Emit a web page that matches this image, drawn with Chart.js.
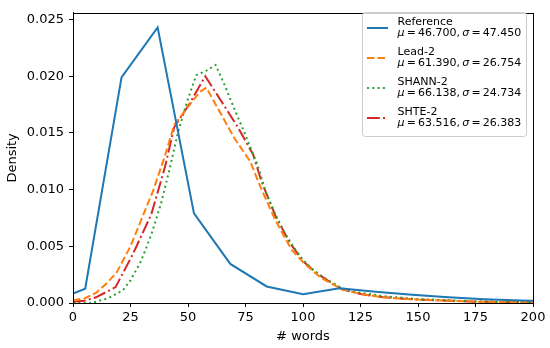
<!DOCTYPE html>
<html>
<head>
<meta charset="utf-8">
<script src="https://cdn.jsdelivr.net/npm/chart.js@4.4.1/dist/chart.umd.min.js"></script>
<style>
  html, body { margin: 0; padding: 0; background: #fff; }
  #wrap { width: 550px; height: 348px; }
</style>
</head>
<body>
<div id="wrap"><canvas id="c" width="550" height="348"></canvas></div>
<script>
// ---- Data ----
const seriesNames = ["Reference", "Lead-2", "SHANN-2", "SHTE-2"];
const muValues = ["46.700", "61.390", "66.138", "63.516"];
const sigmaValues = ["47.450", "26.754", "24.734", "26.383"];

const refX = [0, 5.3, 21.1, 36.8, 52.6, 68.4, 84.2, 100, 115.8, 131.6, 147.4, 163.2, 178.9, 194.7, 200];
const refY = [0.00083, 0.00126, 0.0199, 0.0243, 0.0079, 0.00345, 0.00146, 0.00077, 0.00130, 0.00100, 0.00072, 0.00050, 0.00033, 0.00022, 0.00020];

const leadX = [0, 5, 10, 15, 19, 25, 30, 35, 40, 44, 50, 55, 58, 64, 70, 77, 82, 88, 95, 101, 108, 117, 125, 135, 150, 175, 200];
const leadY = [0.00025, 0.0004, 0.0009, 0.0018, 0.0027, 0.0050, 0.0075, 0.0100, 0.0130, 0.0157, 0.0173, 0.0186, 0.0190, 0.0168, 0.0146, 0.0125, 0.0100, 0.0073, 0.0047, 0.0034, 0.0022, 0.0012, 0.0008, 0.0005, 0.0003, 0.00012, 0.00005];

const shannX = [0, 8, 15, 21.6, 25, 29.6, 34, 38.3, 42, 45.7, 50, 53.6, 58, 62, 66, 70, 75, 80, 84, 88, 92, 96, 100, 104, 110, 117, 125, 135, 150, 175, 200];
const shannY = [0.0, 0.0, 0.0004, 0.0011, 0.0020, 0.0037, 0.0060, 0.0088, 0.0118, 0.0151, 0.0180, 0.0201, 0.0205, 0.0210, 0.0192, 0.0172, 0.0148, 0.0123, 0.0097, 0.0078, 0.0062, 0.0049, 0.0038, 0.0030, 0.0021, 0.0013, 0.0009, 0.0006, 0.00035, 0.00015, 0.00006];

const shteX = [0, 5, 10, 18.5, 26, 34, 40, 44, 50.7, 57.5, 64.5, 71.7, 78.3, 82, 88, 94, 100, 106, 117, 125, 135, 150, 175, 200];
const shteY = [0.0001, 0.0002, 0.0005, 0.0014, 0.0043, 0.0078, 0.0120, 0.0155, 0.0176, 0.0200, 0.0178, 0.0155, 0.0131, 0.0107, 0.0077, 0.0054, 0.0037, 0.0026, 0.0012, 0.0008, 0.0005, 0.0003, 0.00012, 0.00005];

const xTicks = [0, 25, 50, 75, 100, 125, 150, 175, 200];
const yTicks = [0.000, 0.005, 0.010, 0.015, 0.020, 0.025];

// ---- Build datasets ----
function pts(xs, ys) { return xs.map((x, i) => ({ x: x, y: ys[i] })); }

const colors = ["#1f77b4", "#ff7f0e", "#2ca02c", "#d62728"];
const dashes = [[], [7.4, 3.2], [2, 3.3], [12.8, 3.2, 2, 3.2]];
const seriesData = [pts(refX, refY), pts(leadX, leadY), pts(shannX, shannY), pts(shteX, shteY)];

const datasets = seriesNames.map((n, i) => ({
  label: n,
  data: seriesData[i],
  borderColor: colors[i],
  backgroundColor: colors[i],
  borderWidth: 2,
  borderDash: dashes[i],
  pointRadius: 0,
  tension: 0,
  fill: false,
  borderCapStyle: 'butt'
}));

const FONT = "'DejaVu Sans', sans-serif";

// Frame (all four spines) + custom matplotlib-like legend
const framePlugin = {
  id: 'frame',
  afterDraw(chart) {
    const { ctx, chartArea: a } = chart;
    ctx.save();
    ctx.strokeStyle = '#000';
    ctx.lineWidth = 1;
    ctx.strokeRect(Math.round(a.left) + 0.5, Math.round(a.top) + 0.5, Math.round(a.right - a.left), Math.round(a.bottom - a.top));
    ctx.restore();

    // legend
    const bx = 362.5, by = 12.5, bw = 164, bh = 124, r = 3;
    ctx.save();
    ctx.beginPath();
    ctx.moveTo(bx + r, by);
    ctx.lineTo(bx + bw - r, by);
    ctx.quadraticCurveTo(bx + bw, by, bx + bw, by + r);
    ctx.lineTo(bx + bw, by + bh - r);
    ctx.quadraticCurveTo(bx + bw, by + bh, bx + bw - r, by + bh);
    ctx.lineTo(bx + r, by + bh);
    ctx.quadraticCurveTo(bx, by + bh, bx, by + bh - r);
    ctx.lineTo(bx, by + r);
    ctx.quadraticCurveTo(bx, by, bx + r, by);
    ctx.closePath();
    ctx.fillStyle = 'rgba(255,255,255,0.8)';
    ctx.fill();
    ctx.strokeStyle = '#cccccc';
    ctx.lineWidth = 1;
    ctx.stroke();

    const ds = chart.data.datasets;
    for (let i = 0; i < ds.length; i++) {
      const y0 = 21.7 + 30 * i;
      const ly = y0 + 6.3;
      ctx.beginPath();
      ctx.setLineDash(ds[i].borderDash);
      ctx.lineCap = 'butt';
      ctx.strokeStyle = ds[i].borderColor;
      ctx.lineWidth = 2;
      ctx.moveTo(367, ly);
      ctx.lineTo(388, ly);
      ctx.stroke();
      ctx.setLineDash([]);

      ctx.fillStyle = '#000';
      ctx.textBaseline = 'middle';
      ctx.textAlign = 'left';
      ctx.font = "11px " + FONT;
      ctx.fillText(ds[i].label, 397.5, y0);

      // second line: mathtext-like  μ = xx, σ = yy
      const y1 = y0 + 11.7;
      let x = 397.5;
      const segs = [
        ["μ", true], ["\u2009=\u2009" + muValues[i] + ",\u2009", false], ["σ", true], ["\u2009=\u2009" + sigmaValues[i], false]
      ];
      for (const [t, it] of segs) {
        ctx.font = (it ? "italic " : "") + "11px " + FONT;
        ctx.fillText(t, x, y1);
        x += ctx.measureText(t).width;
      }
    }
    ctx.restore();
  }
};

new Chart(document.getElementById('c'), {
  type: 'line',
  data: { datasets: datasets },
  options: {
    responsive: false,
    animation: false,
    devicePixelRatio: 1,
    layout: { padding: { top: 4, right: 17, left: 0, bottom: 0 } },
    plugins: { legend: { display: false }, tooltip: { enabled: false } },
    scales: {
      x: {
        type: 'linear',
        min: 0, max: 200,
        afterFit(s) { s.height = 45; },
        afterBuildTicks(s) { s.ticks = xTicks.map(v => ({ value: v })); },
        border: { display: true, color: '#000', width: 1 },
        grid: { display: true, drawOnChartArea: false, drawTicks: true, tickLength: 4, color: '#000', tickColor: '#000' },
        ticks: { color: '#000', font: { family: FONT, size: 13 }, padding: 3, maxRotation: 0, autoSkip: false,
                 callback: v => String(v) },
        title: { display: true, text: '# words', color: '#000', font: { family: FONT, size: 13 }, padding: { top: 2, bottom: 4 } }
      },
      y: {
        type: 'linear',
        min: 0, max: 0.0256,
        afterFit(s) { s.width = 73; },
        afterBuildTicks(s) { s.ticks = yTicks.map(v => ({ value: v })); },
        border: { display: true, color: '#000', width: 1 },
        grid: { display: true, drawOnChartArea: false, drawTicks: true, tickLength: 4, color: '#000', tickColor: '#000' },
        ticks: { color: '#000', font: { family: FONT, size: 13 }, padding: 5, autoSkip: false,
                 callback: v => Number(v).toFixed(3) },
        title: { display: true, text: 'Density', color: '#000', font: { family: FONT, size: 13 }, padding: { top: 5, bottom: 2 } }
      }
    }
  },
  plugins: [framePlugin]
});
</script>
</body>
</html>
